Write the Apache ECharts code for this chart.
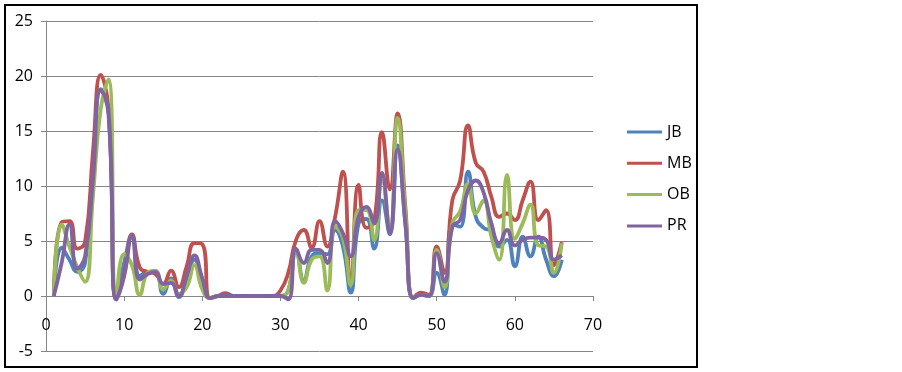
<!DOCTYPE html>
<html>
<head>
<meta charset="utf-8">
<script src="https://cdn.jsdelivr.net/npm/echarts@6/dist/echarts.min.js"></script>
<style>
  html, body { margin: 0; padding: 0; background: #fff; }
  #chart { width: 902px; height: 372px; }
</style>
</head>
<body>
<div id="chart"></div>
<script>
// x positions of the samples
const xValues = [
  1, 2, 3, 4, 5, 6, 7, 8, 9, 10, 11, 12, 13, 14, 15, 16, 17, 18, 19, 20, 21, 22,
  23, 24, 25, 26, 27, 28, 29, 30, 31, 32, 33, 34, 35, 36, 37, 38, 39, 40, 41, 42, 43, 44,
  45, 46, 47, 48, 49, 50, 51, 52, 53, 54, 55, 56, 57, 58, 59, 60, 61, 62, 63, 64, 65, 66
]

const seriesNames = ['JB', 'MB', 'OB', 'PR']

const jbValues = [
  0, 4.4, 3.3, 2.2, 3.0, 11, 18.8, 16.5, -0.3, 3.0, 5.5, 1.8, 2.2, 2.2, 0.2, 1.6, -0.1, 1.5, 3.3, 1.5, -0.2, 0,
  0, 0, 0, 0, 0, 0, 0, 0, 0.5, 4.2, 1.4, 3.6, 3.9, 3.8, 6.0, 4.5, 0.3, 6.6, 7.0, 4.3, 8.7, 5.6,
  13.7, 6.5, -0.2, 0.1, 0, 2.1, 0.1, 6.5, 6.3, 11.3, 7.2, 6.2, 5.9, 4.5, 5.1, 2.7, 5.4, 3.6, 5.4, 3.3, 1.8, 3.3
]

const mbValues = [
  0, 6.7, 6.8, 4.3, 4.9, 13, 20.1, 17, -0.3, 2.0, 5.6, 2.6, 2.2, 2.0, 1.1, 2.3, 0.8, 2.7, 4.8, 4.7, -0.2, 0,
  0.25, 0, 0, 0, 0, 0, 0, 0.5, 2.1, 5.1, 6.0, 4.4, 6.8, 4.5, 7.2, 11.3, 1.2, 10.1, 6.2, 6.8, 14.9, 9.7,
  16.6, 8.0, -0.2, 0.3, 0.1, 4.5, 2.1, 8.7, 10.5, 15.5, 12.1, 11.3, 9.0, 7.2, 7.5, 6.9, 8.7, 10.4, 6.9, 7.8, 2.8, 4.9
]

const obValues = [
  0, 6.5, 4.5, 2.6, 1.3, 9, 17, 19.7, -0.3, 3.8, 2.8, 0.1, 2.1, 2.3, 0.6, 1.4, 0.2, 0.8, 2.8, 0.6, -0.2, 0,
  0, 0, 0, 0, 0, 0, 0, 0, 0.5, 4.2, 1.2, 3.3, 3.6, 0.5, 6.3, 5.3, 1.0, 7.8, 7.8, 5.1, 10.5, 6.1,
  16.2, 7.5, -0.2, 0.1, 0, 4.2, 0.8, 6.6, 7.7, 10.2, 7.5, 8.7, 5.4, 3.3, 11.0, 5.2, 6.6, 8.3, 4.6, 4.5, 2.1, 4.8
]

const prValues = [
  0, 3.0, 6.5, 2.5, 3.6, 10.5, 18.7, 16.9, -0.3, 1.8, 5.5, 1.5, 2.0, 2.2, 1.1, 1.2, 0, 1.8, 3.7, 1.6, -0.2, 0,
  0, 0, 0, 0, 0, 0, 0, 0, -0.3, 4.3, 3.0, 4.2, 4.2, 3.0, 6.8, 5.7, 3.6, 7.2, 8.1, 6.6, 11.2, 5.7,
  13.3, 6.5, -0.2, 0.1, 0, 3.9, 1.3, 6.3, 6.9, 9.6, 10.5, 9.4, 6.6, 4.8, 6.0, 4.6, 5.1, 5.3, 5.3, 5.1, 3.3, 3.7
]

const colors = ['#4F81BD', '#C0504D', '#9BBB59', '#8064A2']
const allValues = [jbValues, mbValues, obValues, prValues]

const font = '"Open Sans", Lato, sans-serif'

const chart = echarts.init(document.getElementById('chart'), null, { renderer: 'canvas' })

const series = seriesNames.map((name, i) => ({
  name,
  type: 'line',
  smooth: 0.5,
  showSymbol: false,
  data: xValues.map((x, k) => [x, allValues[i][k]]),
  lineStyle: { width: 3.8, color: colors[i] },
  itemStyle: { color: colors[i] }
}))

chart.setOption({
  animation: false,
  backgroundColor: '#fff',
  color: colors,
  // 外框
  graphic: [{
    type: 'rect',
    shape: { x: 5, y: 5, width: 692, height: 362 },
    style: { fill: 'none', stroke: '#000', lineWidth: 2 },
    silent: true
  }],
  grid: { left: 46, right: 309, top: 21, bottom: 21, containLabel: false, outerBoundsMode: 'none' },
  legend: {
    orient: 'vertical',
    left: 627,
    top: 124,
    padding: 0,
    icon: 'rect',
    itemWidth: 35,
    itemHeight: 3,
    itemGap: 15.3,
    textStyle: { fontFamily: font, fontSize: 16, color: '#000', lineHeight: 16 },
    data: seriesNames
  },
  // x轴 放在 y=0 处（offset 把轴线从底边抬到 0）
  xAxis: {
    type: 'value',
    min: 0,
    max: 70,
    interval: 10,
    position: 'bottom',
    offset: -55,
    axisLine: { onZero: false, lineStyle: { color: '#868686', width: 1 } },
    axisTick: { show: true, inside: false, length: 5, lineStyle: { color: '#868686' } },
    axisLabel: { margin: 21, fontFamily: font, fontSize: 16, color: '#000' },
    splitLine: { show: false }
  },
  yAxis: {
    type: 'value',
    min: -5,
    max: 25,
    interval: 5,
    axisLine: { show: true, lineStyle: { color: '#868686', width: 1 } },
    axisTick: { show: true, length: 5, lineStyle: { color: '#868686' } },
    axisLabel: { margin: 13, fontFamily: font, fontSize: 16, color: '#000' },
    splitLine: { show: true, lineStyle: { color: '#868686', width: 1 } }
  },
  series
})
</script>
</body>
</html>
